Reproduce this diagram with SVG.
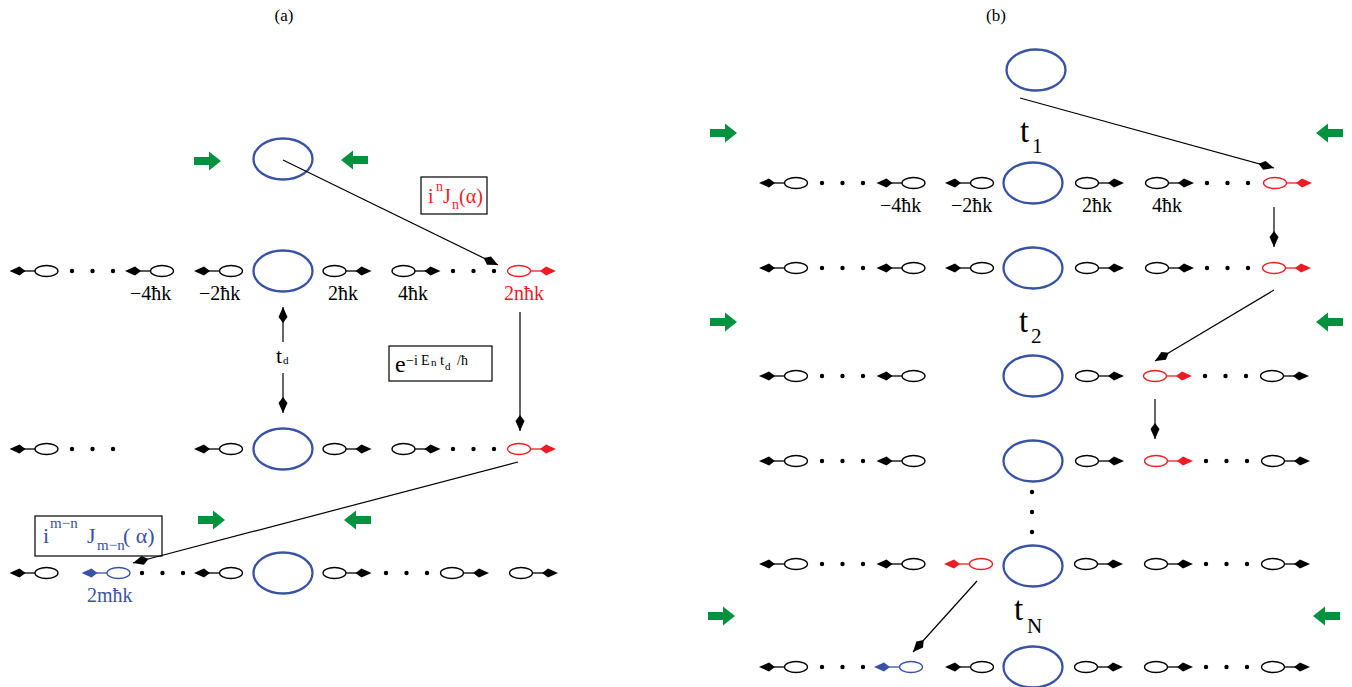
<svg xmlns="http://www.w3.org/2000/svg" xmlns:xlink="http://www.w3.org/1999/xlink" width="1352" height="687" viewBox="0 0 1352 687">
<style>
.big{fill:none;stroke:#3953a4;stroke-width:2.3}
.dot{fill:#000}
.con{stroke:#000;stroke-width:1.2;fill:none}
.t{font-family:"Liberation Serif","DejaVu Serif","Times New Roman",serif;fill:#000}
.red{fill:#ed1c24}
.blue{fill:#3953a4}
.box{fill:none;stroke:#000;stroke-width:1.2}
</style>
<defs>
<g id="uR"><ellipse cx="0" cy="0" rx="11.5" ry="5.5" fill="none" stroke="currentColor" stroke-width="1.3"/><line x1="11.5" y1="0" x2="23" y2="0" stroke="currentColor" stroke-width="1.3"/><polygon points="37,0 27,-4.5 21,0 27,4.5" fill="currentColor"/></g>
<g id="uL"><use href="#uR" xlink:href="#uR" transform="scale(-1,1)"/></g>
<path id="gR" d="M0,-4 H15 V-9.5 L27,0 L15,9.5 V4 H0 Z" fill="#00923f"/>
<g id="gL"><use href="#gR" xlink:href="#gR" transform="scale(-1,1)"/></g>
<g id="dots3"><circle cx="0" cy="0" r="2.2"/><circle cx="20.5" cy="0" r="2.2"/><circle cx="41" cy="0" r="2.2"/></g>
<marker id="kite" viewBox="-18 -6 20 12" refX="0" refY="0" markerWidth="20" markerHeight="12" markerUnits="userSpaceOnUse" orient="auto"><polygon points="0,0 -10,-4.5 -16,0 -10,4.5" fill="#000"/></marker>
<marker id="kiteS" viewBox="-2 -6 20 12" refX="0" refY="0" markerWidth="20" markerHeight="12" markerUnits="userSpaceOnUse" orient="auto"><polygon points="0,0 10,-4.5 16,0 10,4.5" fill="#000"/></marker>
</defs>
<rect width="1352" height="687" fill="#fff"/>

<!-- titles -->
<text class="t" x="284" y="21" font-size="17" text-anchor="middle">(a)</text>
<text class="t" x="996" y="21" font-size="17" text-anchor="middle">(b)</text>

<!-- ===== Panel (a) ===== -->
<g id="a-top"><ellipse class="big" cx="283" cy="159" rx="29.5" ry="20.5"/></g>
<g id="a-green" >
<use href="#gR" xlink:href="#gR" x="194" y="161"/>
<use href="#gL" xlink:href="#gL" x="368" y="160"/>
<use href="#gR" xlink:href="#gR" x="198" y="520"/>
<use href="#gL" xlink:href="#gL" x="371" y="520"/>
</g>

<g id="a-row1" color="#000">
<use href="#uL" xlink:href="#uL" x="46.5" y="271"/>
<use href="#dots3" xlink:href="#dots3" x="72" y="271"/>
<use href="#uL" xlink:href="#uL" x="162" y="271"/>
<use href="#uL" xlink:href="#uL" x="231" y="271"/>
<ellipse class="big" cx="283" cy="271" rx="29.5" ry="20.5"/>
<use href="#uR" xlink:href="#uR" x="334.5" y="271"/>
<use href="#uR" xlink:href="#uR" x="403.5" y="271"/>
<use href="#dots3" xlink:href="#dots3" x="453" y="271"/>
<use href="#uR" xlink:href="#uR" x="519" y="271" color="#ed1c24"/>
<text class="t" x="130" y="300" font-size="20">−4ħk</text>
<text class="t" x="199" y="300" font-size="20">−2ħk</text>
<text class="t" x="328" y="300" font-size="20">2ħk</text>
<text class="t" x="398" y="300" font-size="20">4ħk</text>
<text class="t red" x="504" y="300" font-size="20">2nħk</text>
</g>

<g id="a-row2" color="#000">
<use href="#uL" xlink:href="#uL" x="46.5" y="449"/>
<use href="#dots3" xlink:href="#dots3" x="72" y="449"/>
<use href="#uL" xlink:href="#uL" x="231" y="449"/>
<ellipse class="big" cx="283" cy="449" rx="29.5" ry="20.5"/>
<use href="#uR" xlink:href="#uR" x="334.5" y="449"/>
<use href="#uR" xlink:href="#uR" x="403.5" y="449"/>
<use href="#dots3" xlink:href="#dots3" x="453" y="449"/>
<use href="#uR" xlink:href="#uR" x="519" y="449" color="#ed1c24"/>
</g>

<g id="a-row3" color="#000">
<use href="#uL" xlink:href="#uL" x="46.5" y="573"/>
<use href="#uL" xlink:href="#uL" x="118.5" y="573" color="#3953a4"/>
<use href="#dots3" xlink:href="#dots3" x="142" y="573"/>
<use href="#uL" xlink:href="#uL" x="231" y="573"/>
<ellipse class="big" cx="283" cy="573" rx="29.5" ry="20.5"/>
<use href="#uR" xlink:href="#uR" x="334.5" y="573"/>
<use href="#dots3" xlink:href="#dots3" x="386" y="573"/>
<use href="#uR" xlink:href="#uR" x="452" y="573"/>
<use href="#uR" xlink:href="#uR" x="521" y="573"/>
<text class="t blue" x="87" y="602" font-size="20">2mħk</text>
</g>

<g id="a-box1">
<rect class="box" x="421" y="177" width="66" height="37"/>
<text class="t red" font-size="20"><tspan x="428" y="203">i</tspan><tspan x="436" y="191" font-size="14">n</tspan><tspan x="443" y="203">J</tspan><tspan x="452" y="209" font-size="14">n</tspan><tspan x="459" y="203">(α)</tspan></text>
</g>
<g id="a-box2">
<rect class="box" x="389" y="346" width="103" height="35"/>
<text class="t" font-size="24"><tspan x="395" y="372">e</tspan><tspan x="406" y="365" font-size="14">−i</tspan><tspan x="421" y="365" font-size="14">E</tspan><tspan x="431" y="366" font-size="11">n</tspan><tspan x="440" y="365" font-size="15">t</tspan><tspan x="445" y="370" font-size="11">d</tspan><tspan x="457" y="365" font-size="14">/ħ</tspan></text>
</g>
<g id="a-box3">
<rect class="box" x="35" y="516" width="127" height="40"/>
<text class="t blue" font-size="22"><tspan x="43" y="543">i</tspan><tspan x="50" y="528" font-size="15">m−n</tspan><tspan x="87" y="543">J</tspan><tspan x="97" y="550" font-size="15">m−n</tspan><tspan x="123" y="543">( α)</tspan></text>
</g>
<g id="a-td">
<text class="t" font-size="22"><tspan x="276" y="363">t</tspan><tspan x="283" y="364" font-size="11">d</tspan></text>
</g>

<g id="a-connectors">
<line class="con" x1="283" y1="160" x2="498" y2="265" marker-end="url(#kite)"/>
<line class="con" x1="520" y1="312" x2="520" y2="431" marker-end="url(#kite)"/>
<line class="con" x1="518" y1="462" x2="133" y2="563" marker-end="url(#kite)"/>
<line class="con" x1="283" y1="307" x2="283" y2="342" marker-start="url(#kiteS)"/>
<line class="con" x1="283" y1="373" x2="283" y2="413" marker-end="url(#kite)"/>
</g>

<!-- ===== Panel (b) ===== -->
<g id="b-top"><ellipse class="big" cx="1036" cy="70" rx="29.5" ry="20.5"/></g>
<g id="b-green">
<use href="#gR" xlink:href="#gR" x="710" y="133"/>
<use href="#gL" xlink:href="#gL" x="1343" y="133"/>
<use href="#gR" xlink:href="#gR" x="710" y="322"/>
<use href="#gL" xlink:href="#gL" x="1343" y="322"/>
<use href="#gR" xlink:href="#gR" x="708" y="616"/>
<use href="#gL" xlink:href="#gL" x="1340" y="616"/>
</g>

<g id="b-labels">
<text class="t" font-size="33"><tspan x="1020" y="142">t</tspan><tspan x="1032" y="153" font-size="21">1</tspan></text>
<text class="t" font-size="33"><tspan x="1019" y="332">t</tspan><tspan x="1031" y="343" font-size="21">2</tspan></text>
<text class="t" font-size="33"><tspan x="1014" y="620">t</tspan><tspan x="1027" y="633" font-size="21">N</tspan></text>
</g>

<g id="b-row1" color="#000">
<use href="#uL" xlink:href="#uL" x="796" y="183"/>
<use href="#dots3" xlink:href="#dots3" x="822" y="183"/>
<use href="#uL" xlink:href="#uL" x="913.5" y="183"/>
<use href="#uL" xlink:href="#uL" x="982" y="183"/>
<ellipse class="big" cx="1033" cy="183" rx="29.5" ry="20.5"/>
<use href="#uR" xlink:href="#uR" x="1087" y="183"/>
<use href="#uR" xlink:href="#uR" x="1157" y="183"/>
<use href="#dots3" xlink:href="#dots3" x="1207" y="183"/>
<use href="#uR" xlink:href="#uR" x="1275" y="183" color="#ed1c24"/>
<text class="t" x="880" y="212" font-size="20">−4ħk</text>
<text class="t" x="951" y="212" font-size="20">−2ħk</text>
<text class="t" x="1082" y="212" font-size="20">2ħk</text>
<text class="t" x="1152" y="212" font-size="20">4ħk</text>
</g>

<g id="b-row2" color="#000">
<use href="#uL" xlink:href="#uL" x="796" y="268"/>
<use href="#dots3" xlink:href="#dots3" x="822" y="268"/>
<use href="#uL" xlink:href="#uL" x="913.5" y="268"/>
<use href="#uL" xlink:href="#uL" x="982" y="268"/>
<ellipse class="big" cx="1033" cy="268" rx="29.5" ry="20.5"/>
<use href="#uR" xlink:href="#uR" x="1087" y="268"/>
<use href="#uR" xlink:href="#uR" x="1157" y="268"/>
<use href="#dots3" xlink:href="#dots3" x="1207" y="268"/>
<use href="#uR" xlink:href="#uR" x="1274" y="268" color="#ed1c24"/>
</g>

<g id="b-row3" color="#000">
<use href="#uL" xlink:href="#uL" x="796" y="376"/>
<use href="#dots3" xlink:href="#dots3" x="822" y="376"/>
<use href="#uL" xlink:href="#uL" x="913.5" y="376"/>
<ellipse class="big" cx="1033" cy="376" rx="29.5" ry="20.5"/>
<use href="#uR" xlink:href="#uR" x="1087" y="376"/>
<use href="#uR" xlink:href="#uR" x="1155" y="376" color="#ed1c24"/>
<use href="#dots3" xlink:href="#dots3" x="1205" y="376"/>
<use href="#uR" xlink:href="#uR" x="1272" y="376"/>
</g>

<g id="b-row4" color="#000">
<use href="#uL" xlink:href="#uL" x="796" y="461"/>
<use href="#dots3" xlink:href="#dots3" x="822" y="461"/>
<use href="#uL" xlink:href="#uL" x="913.5" y="461"/>
<ellipse class="big" cx="1033" cy="461" rx="29.5" ry="20.5"/>
<use href="#uR" xlink:href="#uR" x="1087" y="461"/>
<use href="#uR" xlink:href="#uR" x="1156" y="461" color="#ed1c24"/>
<use href="#dots3" xlink:href="#dots3" x="1206" y="461"/>
<use href="#uR" xlink:href="#uR" x="1273" y="461"/>
</g>

<g id="b-vdots">
<circle cx="1032" cy="492" r="2.2"/>
<circle cx="1032" cy="512" r="2.2"/>
<circle cx="1032" cy="532" r="2.2"/>
</g>

<g id="b-row5" color="#000">
<use href="#uL" xlink:href="#uL" x="796" y="564"/>
<use href="#dots3" xlink:href="#dots3" x="822" y="564"/>
<use href="#uL" xlink:href="#uL" x="913.5" y="564"/>
<use href="#uL" xlink:href="#uL" x="981" y="564" color="#ed1c24"/>
<ellipse class="big" cx="1033" cy="566" rx="29.5" ry="20.5"/>
<use href="#uR" xlink:href="#uR" x="1086" y="564"/>
<use href="#uR" xlink:href="#uR" x="1156" y="564"/>
<use href="#dots3" xlink:href="#dots3" x="1206" y="564"/>
<use href="#uR" xlink:href="#uR" x="1273" y="564"/>
</g>

<g id="b-row6" color="#000">
<use href="#uL" xlink:href="#uL" x="796" y="667"/>
<use href="#dots3" xlink:href="#dots3" x="822" y="667"/>
<use href="#uL" xlink:href="#uL" x="911" y="667" color="#3953a4"/>
<use href="#uL" xlink:href="#uL" x="982" y="667"/>
<ellipse class="big" cx="1033" cy="667" rx="29.5" ry="20.5"/>
<use href="#uR" xlink:href="#uR" x="1086" y="667"/>
<use href="#uR" xlink:href="#uR" x="1156" y="667"/>
<use href="#dots3" xlink:href="#dots3" x="1206" y="667"/>
<use href="#uR" xlink:href="#uR" x="1273" y="667"/>
</g>

<g id="b-connectors">
<line class="con" x1="1020" y1="98" x2="1274" y2="168" marker-end="url(#kite)"/>
<line class="con" x1="1274" y1="207" x2="1274" y2="247" marker-end="url(#kite)"/>
<line class="con" x1="1274" y1="290" x2="1155" y2="361" marker-end="url(#kite)"/>
<line class="con" x1="1155" y1="399" x2="1155" y2="439" marker-end="url(#kite)"/>
<line class="con" x1="977" y1="581" x2="913" y2="652" marker-end="url(#kite)"/>
</g>
</svg>
